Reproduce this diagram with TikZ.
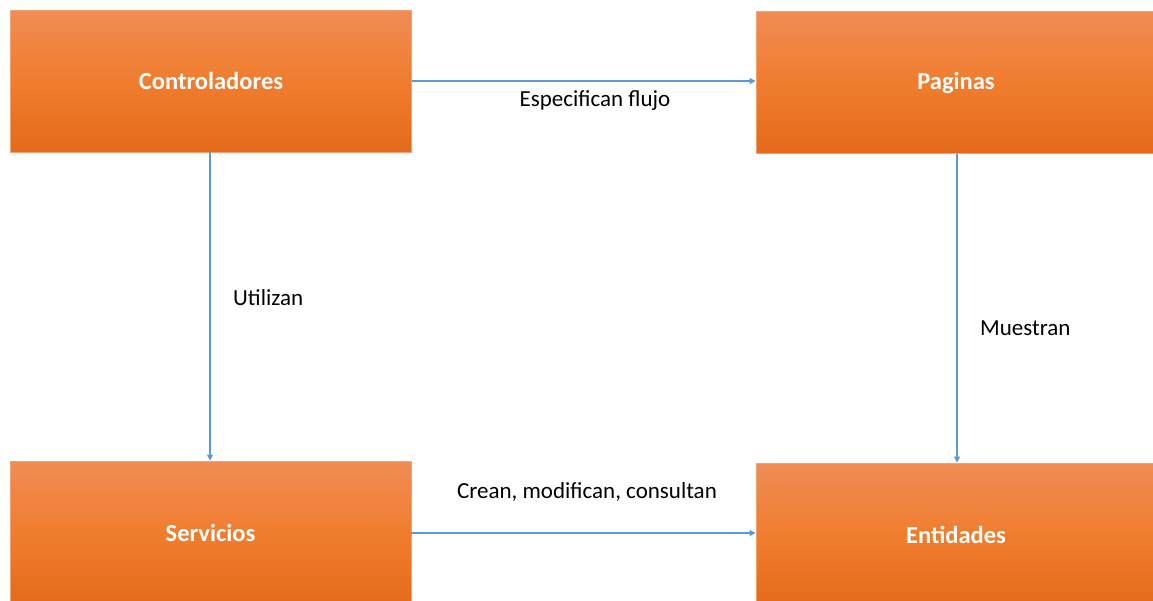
\documentclass[tikz,border=0pt]{standalone}
\usepackage{fontspec}
\setmainfont{Carlito}
\usetikzlibrary{arrows.meta}
\definecolor{boxtop}{HTML}{F08C55}
\definecolor{boxmid}{HTML}{F07D2E}
\definecolor{boxbot}{HTML}{E46A1A}
\definecolor{boxline}{HTML}{F4A070}
\definecolor{conn}{HTML}{5B9BD5}
\tikzset{
  block/.style={rectangle, draw=boxline, line width=0.8pt, top color=boxtop, bottom color=boxbot, middle color=boxmid, minimum width=#1, minimum height=146pt, inner sep=0pt, text=white, font=\fontsize{24.5}{28}\selectfont\bfseries},
  block/.default=401pt,
  conn/.style={draw=conn, line width=1.3pt, -{Triangle[length=6pt,width=6pt]}},
  lab/.style={font=\fontsize{23}{27}\selectfont, text=black, inner sep=0pt}
}
\begin{document}
\begin{tikzpicture}[x=1pt,y=-1pt]
\useasboundingbox (0,0) rectangle (1153,600);
\clip (0,0) rectangle (1153,600);
\fill[white] (0,0) rectangle (1153,600);
\node[block, minimum height=142pt] (ctrl) at (211,81) {Controladores};
\node[block=400pt, minimum height=142pt] (pag) at (956,82.5) {Paginas};
\node[block] (serv) at (210.5,534) {\raisebox{2pt}{Servicios}};
\node[block=400pt] (ent) at (956,536) {\raisebox{2pt}{Entidades}};
\draw[conn] (ctrl.east |- 0,81) -- (pag.west |- 0,81);
\draw[conn] (ctrl.south -| 210,0) -- (serv.north -| 210,0);
\draw[conn] (pag.south -| 957,0) -- (ent.north -| 957,0);
\draw[conn] (serv.east |- 0,533) -- (ent.west |- 0,533);
\node[lab] (l1) at (595,101) {Especifican flujo};
\node[lab, anchor=west] (l2) at (233,298) {Utilizan};
\node[lab, anchor=west] (l3) at (980,328) {Muestran};
\node[lab] (l4) at (587,492) {Crean, modifican, consultan};
\end{tikzpicture}
\end{document}
